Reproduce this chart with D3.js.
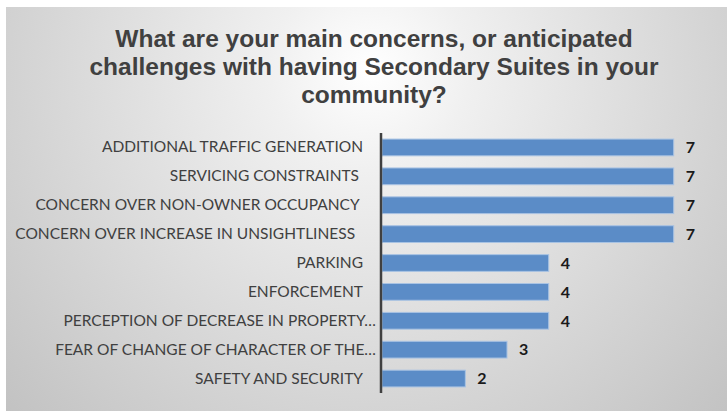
<!DOCTYPE html>
<html>
<head>
<meta charset="utf-8">
<script src="https://cdn.jsdelivr.net/npm/d3@7"></script>
<style>
  html, body { margin: 0; padding: 0; background: #ffffff; }
  svg { display: block; }
  text { white-space: pre; }
</style>
</head>
<body>
<svg id="chart" width="727" height="411"></svg>
<script>
const titleLines = [
  "What are your main concerns, or anticipated",
  "challenges with having Secondary Suites in your",
  "community?"
];
const categories = [
  "ADDITIONAL TRAFFIC GENERATION",
  "SERVICING CONSTRAINTS ",
  "CONCERN OVER NON-OWNER OCCUPANCY ",
  "CONCERN OVER INCREASE IN UNSIGHTLINESS  ",
  "PARKING",
  "ENFORCEMENT",
  "PERCEPTION OF DECREASE IN PROPERTY…",
  "FEAR OF CHANGE OF CHARACTER OF THE…",
  "SAFETY AND SECURITY"
];
const values = [7, 7, 7, 7, 4, 4, 4, 3, 2];

const W = 727, H = 411;
const svg = d3.select("#chart");

// background gradient
const defs = svg.append("defs");
const grad = defs.append("radialGradient")
  .attr("id", "bg")
  .attr("gradientUnits", "userSpaceOnUse")
  .attr("cx", 370).attr("cy", 70).attr("r", 500)
  .attr("fx", 370).attr("fy", 70);
grad.append("stop").attr("offset", "0%").attr("stop-color", "#ffffff");
grad.append("stop").attr("offset", "20%").attr("stop-color", "#f0f0f0");
grad.append("stop").attr("offset", "100%").attr("stop-color", "#c2c2c2");

svg.append("rect").attr("x", 0).attr("y", 0).attr("width", W).attr("height", H).attr("fill", "#ffffff");
svg.append("rect").attr("x", 6).attr("y", 7).attr("width", W - 6).attr("height", H - 7)
  .attr("fill", "url(#bg)");

// title
svg.append("g").selectAll("text").data(titleLines).join("text")
  .attr("x", 374)
  .attr("y", (d, i) => 47 + i * 28)
  .attr("text-anchor", "middle")
  .attr("font-family", "'Liberation Sans', Arial, sans-serif")
  .attr("font-weight", "bold")
  .attr("font-size", 24.5)
  .attr("fill", "#404040")
  .text(d => d);

const x = d3.scaleLinear().domain([0, 7]).range([382, 673.7]);
const y = d3.scaleBand().domain(categories).range([133, 393]).paddingInner(0.42).paddingOuter(0.21);

// bars
svg.append("g").selectAll("rect").data(values).join("rect")
  .attr("x", x(0))
  .attr("y", (d, i) => y(categories[i]))
  .attr("width", d => x(d) - x(0))
  .attr("height", y.bandwidth())
  .attr("fill", "#5b8cc7")
  .attr("stroke", "#a9c3e3")
  .attr("stroke-width", 1);

// value labels
svg.append("g").selectAll("text").data(values).join("text")
  .attr("x", d => x(d) + 12)
  .attr("y", (d, i) => y(categories[i]) + y.bandwidth() / 2)
  .attr("dy", "0.36em")
  .attr("font-family", "Lato, 'Open Sans', sans-serif")
  .attr("font-weight", "bold")
  .attr("font-size", 16)
  .attr("fill", "#1a1a1a")
  .text(d => d);

// category axis
const yAxis = d3.axisLeft(y).tickSize(0).tickPadding(0);
const ag = svg.append("g").attr("transform", "translate(381,0)").call(yAxis);
ag.select(".domain").attr("stroke", "#404040").attr("stroke-width", 2.5)
  .attr("d", "M0,133V393");
ag.selectAll(".tick text")
  .attr("x", d => d.endsWith("…") ? -5 : -18)
  .attr("font-family", "Lato, 'Open Sans', sans-serif")
  .attr("font-size", 15.5)
  .attr("fill", "#404040");
</script>
</body>
</html>
